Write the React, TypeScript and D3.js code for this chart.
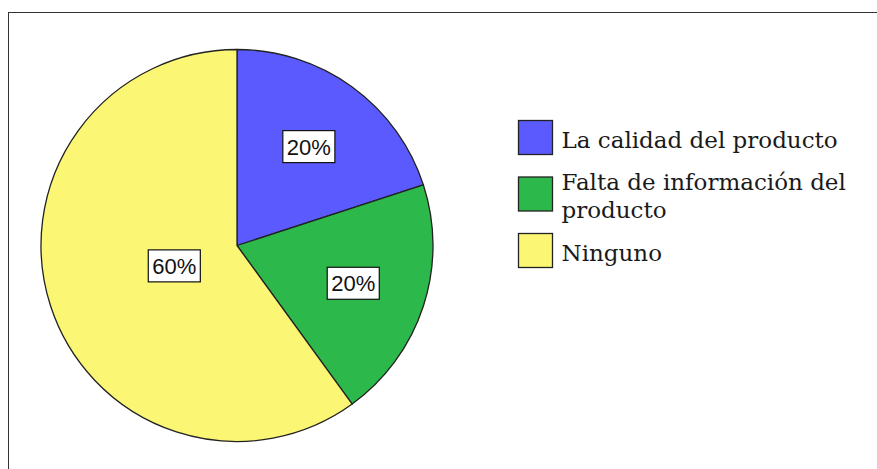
import { useEffect, useRef } from "react";
import * as d3 from "d3";

// slices, clockwise from 12 o'clock
const categories = ["La calidad del producto", "Falta de información del producto", "Ninguno"];
const values = [20, 20, 60];
const legendLines = [["La calidad del producto"], ["Falta de información del", "producto"], ["Ninguno"]];
const colors = ["#5a5aff", "#2db84b", "#fbf673"];

const W = 877;
const H = 469;

export default function App() {
  const ref = useRef<SVGSVGElement>(null);

  useEffect(() => {
    if (!ref.current) return;
    const svg = d3.select(ref.current);
    svg.selectAll("*").remove();

    svg.append("rect").attr("width", W).attr("height", H).attr("fill", "#fff");

    // outer frame (runs off the right / bottom edge)
    svg.append("rect")
      .attr("x", 8.5).attr("y", 12.5)
      .attr("width", W + 20).attr("height", H + 20)
      .attr("fill", "none").attr("stroke", "#333").attr("stroke-width", 1);

    const cx = 237, cy = 245.5, r = 196;
    const color = d3.scaleOrdinal<string, string>().domain(categories).range(colors);

    const data = categories.map((c, i) => ({ cat: c, value: values[i] }));
    const arcs = d3.pie<{ cat: string; value: number }>().sort(null).value((d) => d.value)(data);
    const arc = d3.arc<d3.PieArcDatum<{ cat: string; value: number }>>().innerRadius(0).outerRadius(r);

    const g = svg.append("g").attr("transform", `translate(${cx},${cy})`);

    g.selectAll("path.slice")
      .data(arcs)
      .join("path")
      .attr("class", "slice")
      .attr("d", arc as any)
      .attr("fill", (d) => color(d.data.cat))
      .attr("stroke", "#222")
      .attr("stroke-width", 1.3)
      .attr("stroke-linejoin", "round");

    // labels at the area centroid of each sector
    const total = d3.sum(values);
    const lab = g.selectAll("g.lab").data(arcs).join("g").attr("class", "lab")
      .attr("transform", (d) => {
        const half = (d.endAngle - d.startAngle) / 2;
        const mid = d.startAngle + half;
        const dist = (2 * r * Math.sin(half)) / (3 * half);
        return `translate(${dist * Math.sin(mid)},${-dist * Math.cos(mid)})`;
      });

    const rects = lab.append("rect").attr("fill", "#fff").attr("stroke", "#111").attr("stroke-width", 1.2);
    const texts = lab.append("text")
      .attr("text-anchor", "middle")
      .attr("dy", "0.36em")
      .style("font-family", "'Liberation Sans', Arial, sans-serif")
      .style("font-size", "22px")
      .attr("fill", "#111")
      .text((d) => `${Math.round((d.value / total) * 100)}%`);

    texts.each(function (_, i) {
      const w = (this as SVGTextElement).getComputedTextLength();
      d3.select(rects.nodes()[i])
        .attr("x", -w / 2 - 4).attr("y", -16)
        .attr("width", w + 8).attr("height", 32);
    });

    // legend
    const step = 56.5;
    const leg = svg.append("g").attr("transform", "translate(518.5,120.5)");
    const items = leg.selectAll("g").data(categories).join("g")
      .attr("transform", (_, i) => `translate(0,${i * step})`);

    items.append("rect")
      .attr("width", 34).attr("height", 34)
      .attr("fill", (d) => color(d))
      .attr("stroke", "#222").attr("stroke-width", 1.3);

    items.append("text")
      .style("font-family", "'DejaVu Serif', serif")
      .style("font-size", "23px")
      .attr("fill", "#1a1a1a")
      .each(function (_, i) {
        const lines = legendLines[i];
        const first = 27 - ((lines.length - 1) * 28) / 2;
        d3.select(this).selectAll("tspan").data(lines).join("tspan")
          .attr("x", 43)
          .attr("y", (_, j) => first + j * 28)
          .text((t) => t);
      });
  }, []);

  return (
    <svg ref={ref} width={W} height={H} style={{ position: "absolute", left: 0, top: 0, display: "block" }} />
  );
}
